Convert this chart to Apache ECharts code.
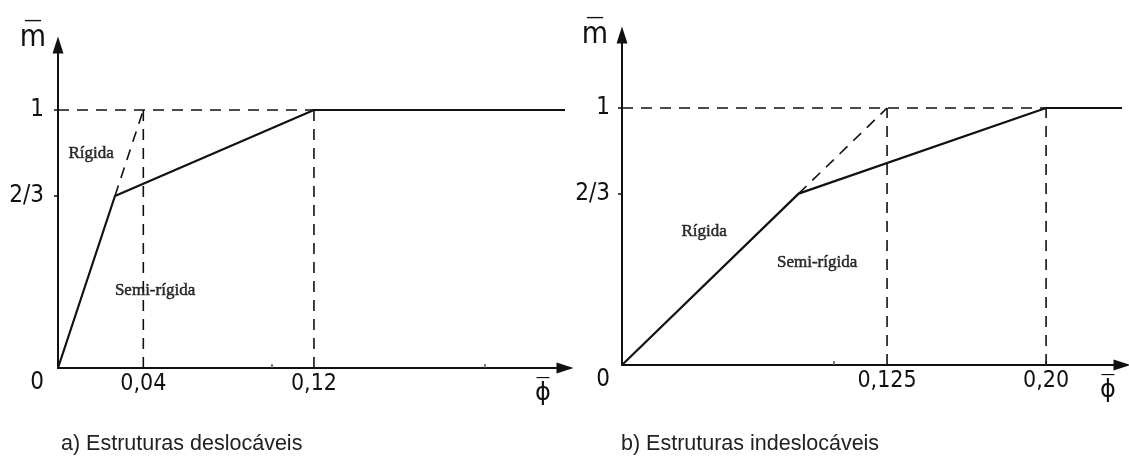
<!DOCTYPE html>
<html>
<head>
<meta charset="utf-8">
<script src="https://cdn.jsdelivr.net/npm/echarts@6/dist/echarts.min.js"></script>
<style>
  html, body { margin: 0; padding: 0; background: #ffffff; }
  #chart { width: 1129px; height: 456px; }
</style>
</head>
<body>
<div id="chart"></div>
<script>
// Moment–rotation classification of beam-to-column connections (EC3 style).

// Shared vertical scale: normalised moment m̄
const momentTicks = [0.6667, 1];
const momentTickLabels = ['2/3', '1'];
const rotationMinorTicks = [0.1, 0.2];

// a) sway frames
const swayRotationTicks = [0.04, 0.12];
const swayRotationLabels = ['0,04', '0,12'];
const swayBoundary = [[0, 0], [0.0267, 0.6667], [0.12, 1], [0.2377, 1]];
const swayRigidExtension = [[0.0267, 0.6667], [0.04, 1]];
const swayRegionText = [
  { value: [0.0155, 0.83], name: 'Rígida' },
  { value: [0.0455, 0.30], name: 'Semi-rígida' }
];

// b) non-sway frames
const braceRotationTicks = [0.125, 0.20];
const braceRotationLabels = ['0,125', '0,20'];
const braceBoundary = [[0, 0], [0.0833, 0.6667], [0.20, 1], [0.2358, 1]];
const braceRigidExtension = [[0.0833, 0.6667], [0.125, 1]];
const braceRegionText = [
  { value: [0.0387, 0.52], name: 'Rígida' },
  { value: [0.092, 0.40], name: 'Semi-rígida' }
];

const INK = '#111111';
const NARROW = '"DejaVu Sans Condensed", "Liberation Sans", sans-serif';
const SERIF = '"Liberation Serif", "DejaVu Serif", serif';

function lookup(values, labels) {
  return function (v) {
    for (let i = 0; i < values.length; i++) {
      if (Math.abs(values[i] - v) < 1e-6) return labels[i];
    }
    return '';
  };
}

function makeXAxis(gridIndex, max, ticks, labels, nameGap) {
  return {
    type: 'value', gridIndex: gridIndex, min: 0, max: max,
    splitLine: { show: false },
    axisLine: {
      show: true, onZero: false,
      lineStyle: { color: INK, width: 2 },
      symbol: ['none', 'triangle'], symbolSize: [11, 17]
    },
    axisTick: { show: true, inside: true, length: 4, customValues: rotationMinorTicks,
      lineStyle: { color: '#555', width: 1.5 } },
    axisLabel: {
      show: true, customValues: ticks, formatter: lookup(ticks, labels),
      margin: 5, color: INK, fontFamily: NARROW, fontSize: 23
    },
    name: '{o|—}\n{s|ϕ}',
    nameLocation: 'end', nameGap: nameGap,
    nameTextStyle: {
      align: 'center', verticalAlign: 'middle', padding: [44, 0, 0, 0],
      rich: {
        o: { fontFamily: NARROW, fontSize: 16, lineHeight: 8, color: INK },
        s: { fontFamily: '"DejaVu Sans", sans-serif', fontSize: 24, lineHeight: 24, color: INK }
      }
    }
  };
}

function makeYAxis(gridIndex, max, labelMargin, nameGap, nameShift) {
  const values = [0].concat(momentTicks);
  const labels = ['{z|0}'].concat(momentTickLabels);
  return {
    type: 'value', gridIndex: gridIndex, min: 0, max: max,
    splitLine: { show: false },
    axisLine: {
      show: true, onZero: false,
      lineStyle: { color: INK, width: 2 },
      symbol: ['none', 'triangle'], symbolSize: [11, 17]
    },
    axisTick: { show: true, inside: false, length: 4, customValues: momentTicks,
      lineStyle: { color: INK, width: 1.5 } },
    axisLabel: {
      show: true, customValues: values, formatter: lookup(values, labels),
      margin: labelMargin, color: INK, fontFamily: NARROW, fontSize: 24,
      rich: { z: { fontFamily: NARROW, fontSize: 24, color: INK, padding: [30, 0, 0, 0] } }
    },
    name: '{o|—}\n{m|m}',
    nameLocation: 'end', nameGap: nameGap,
    nameTextStyle: {
      align: 'center', verticalAlign: 'middle', padding: [0, nameShift, 0, 0],
      rich: {
        o: { fontFamily: NARROW, fontSize: 20, lineHeight: 10, color: INK },
        m: { fontFamily: NARROW, fontSize: 30, lineHeight: 24, color: INK }
      }
    }
  };
}

function solid(name, xi, data) {
  return {
    type: 'line', name: name, xAxisIndex: xi, yAxisIndex: xi, data: data,
    showSymbol: false, symbol: 'none', silent: true, clip: false,
    lineStyle: { color: INK, width: 2.2 }
  };
}

function dashed(name, xi, data) {
  return {
    type: 'line', name: name, xAxisIndex: xi, yAxisIndex: xi, data: data,
    showSymbol: false, symbol: 'none', silent: true, clip: false,
    lineStyle: { color: INK, width: 1.6, type: [11, 8] }
  };
}

// Guide lines: dashed verticals at each rotation limit and the m̄ = 1 level
function guides(xi, ticks) {
  const out = [];
  ticks.forEach(function (t, i) {
    out.push(dashed('limit' + i, xi, [[t, 0], [t, 1]]));
  });
  out.push(dashed('plateau', xi, [[0, 1], [ticks[ticks.length - 1], 1]]));
  return out;
}

// Region names, written in the plane of each diagram
function regionLabels(xi, items) {
  return {
    type: 'scatter', xAxisIndex: xi, yAxisIndex: xi, silent: true,
    symbol: 'circle', symbolSize: 1,
    itemStyle: { color: 'rgba(0,0,0,0)' },
    data: items,
    label: {
      show: true, position: 'inside', formatter: '{b}',
      fontFamily: SERIF, fontSize: 17, color: '#000',
      textBorderColor: '#000', textBorderWidth: 0.5
    }
  };
}

const chart = echarts.init(document.getElementById('chart'));
chart.setOption({
  animation: false,
  backgroundColor: '#ffffff',
  title: [
    { text: 'a) Estruturas deslocáveis', left: 56, top: 428,
      textStyle: { fontFamily: '"Liberation Sans", Arial, sans-serif', fontSize: 21.5, fontWeight: 'normal', color: '#222' } },
    { text: 'b) Estruturas indeslocáveis', left: 616, top: 428,
      textStyle: { fontFamily: '"Liberation Sans", Arial, sans-serif', fontSize: 21.5, fontWeight: 'normal', color: '#222' } }
  ],
  grid: [
    { left: 58, top: 45, width: 507, height: 323, containLabel: false },
    { left: 622, top: 35, width: 500, height: 330, containLabel: false }
  ],
  xAxis: [
    makeXAxis(0, 0.2377, swayRotationTicks, swayRotationLabels, -22),
    makeXAxis(1, 0.2358, braceRotationTicks, braceRotationLabels, -14)
  ],
  yAxis: [
    makeYAxis(0, 1.252, 14, 12, 50),
    makeYAxis(1, 1.284, 12, 5, 54)
  ],
  series: [].concat(
    guides(0, swayRotationTicks),
    [dashed('rigid extension a', 0, swayRigidExtension), solid('boundary a', 0, swayBoundary),
     regionLabels(0, swayRegionText)],
    guides(1, braceRotationTicks),
    [dashed('rigid extension b', 1, braceRigidExtension), solid('boundary b', 1, braceBoundary),
     regionLabels(1, braceRegionText)]
  )
});
</script>
</body>
</html>
